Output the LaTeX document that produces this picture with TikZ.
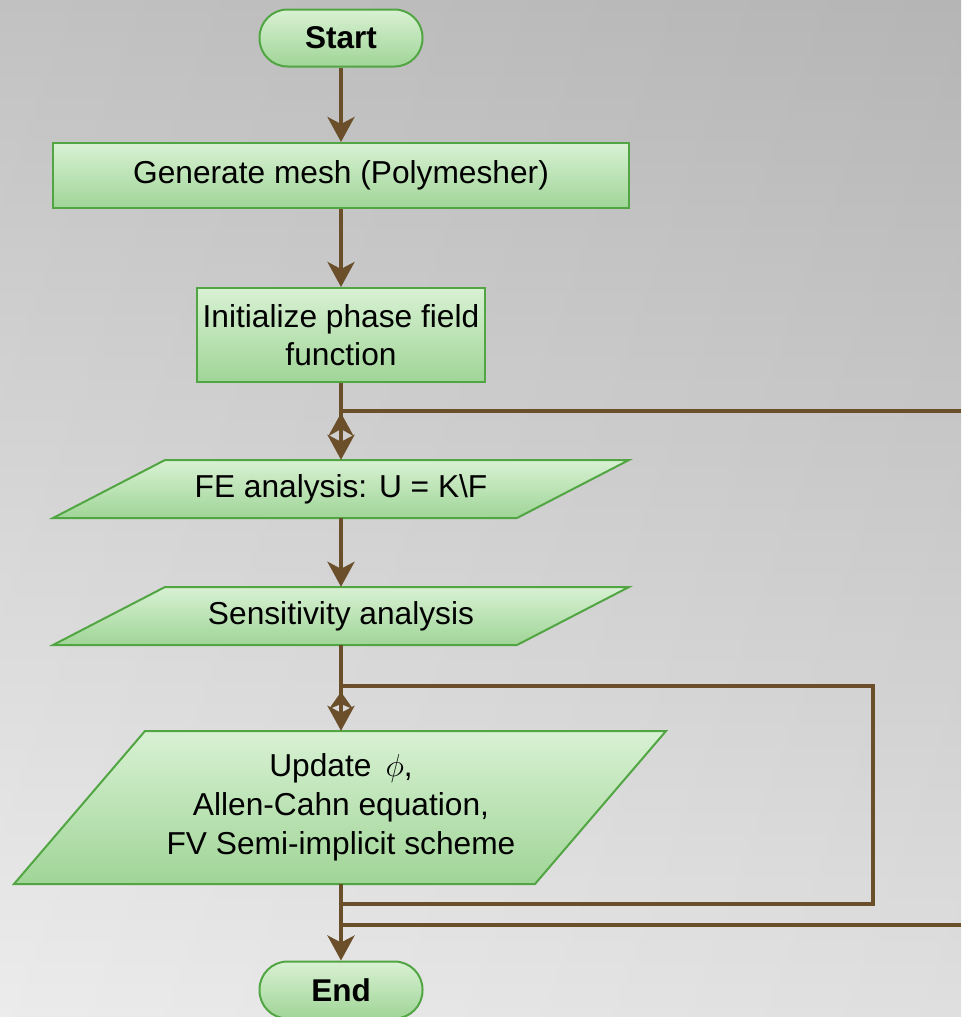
\RequirePackage{fix-cm}
\documentclass[tikz,border=0pt]{standalone}
\usepackage{fontspec}
\setmainfont{Liberation Sans}
\usetikzlibrary{arrows.meta}
\definecolor{bgT}{HTML}{BBBBBB}
\definecolor{bgB}{HTML}{EAEAEA}
\definecolor{ovL}{HTML}{FFFFFF}
\definecolor{ovR}{HTML}{828282}
\definecolor{lnc}{HTML}{6B4F2A}
\definecolor{bord}{HTML}{52A543}
\definecolor{ftop}{HTML}{D8F1D3}
\definecolor{fbot}{HTML}{A0D597}
\tikzset{
  conn/.style={draw=lnc, line width=4pt},
  arr/.style={conn, -{Stealth[length=25pt,width=27pt,inset=7pt]}},
  shapebox/.style={draw=bord, line width=2pt, top color=ftop, bottom color=fbot},
  txt/.style={inner sep=0pt, align=center, font=\fontsize{31.7}{38}\selectfont},
  pill/.style={shapebox, txt, rounded corners=28pt, minimum width=163pt, minimum height=57pt, font=\fontsize{31.5}{38}\selectfont\bfseries},
  rectbox/.style={shapebox, txt, rectangle},
}
\begin{document}
\begin{tikzpicture}[x=1pt,y=-1pt]
\useasboundingbox (0,0) rectangle (961,1017);
\shade[top color=bgT, bottom color=bgB] (0,0) rectangle (961,1017);
\shade[left color=ovL, right color=ovR, opacity=0.1] (0,0) rectangle (961,1017);

% nodes
\node[pill] (start) at (341,38) {Start};
\node[rectbox, minimum width=576pt, minimum height=65pt] (mesh) at (341,175.5) {Generate mesh (Polymesher)};
\node[rectbox, minimum width=288pt, minimum height=94pt] (init) at (341,335) {Initialize phase field\\function};

\path[shapebox] (165,460) -- (629,460) -- (517,518) -- (53,518) -- cycle;
\node[txt, minimum width=400pt, minimum height=58pt] (fe) at (341,489) {FE analysis: U = K\textbackslash F};

\path[shapebox] (165,587) -- (629,587) -- (517,645) -- (53,645) -- cycle;
\node[txt, minimum width=400pt, minimum height=58pt] (sens) at (341,616) {Sensitivity analysis};

\path[shapebox] (145,731) -- (666,731) -- (535,884) -- (14,884) -- cycle;
\node[txt, minimum width=400pt, minimum height=153pt, font=\fontsize{31.7}{39}\selectfont] (upd) at (341,807.5) {Update \,$\phi$,\\Allen-Cahn equation,\\FV Semi-implicit scheme};

\node[pill] (end) at (341,990) {End};

% junction coordinates
\coordinate (j1) at (341,411);
\coordinate (j1t) at (341,413);
\coordinate (j1m) at (341,436);
\coordinate (r1) at (961,411);
\coordinate (r2) at (961,925);
\coordinate (j3) at (341,925);
\coordinate (j2) at (341,686);
\coordinate (j2t) at (341,692);
\coordinate (j2m) at (341,709);
\coordinate (k1) at (873,686);
\coordinate (k2) at (873,904);
\coordinate (j4) at (341,904);

% main flow
\draw[arr] (start.south) -- (mesh.north);
\draw[arr] (mesh.south) -- (init.north);
\draw[arr] (init.south) -- (fe.north);
\draw[arr] (fe.south) -- (sens.north);
\draw[arr] (sens.south) -- (upd.north);
\draw[arr] (upd.south) -- (end.north);

% loops
\draw[conn] (j3) -- (r2);
\draw[conn] (r1) -- (j1);
\draw[conn, line cap=rect] (j4) -- (k2) -- (k1) -- (j2);
\draw[conn, -{Stealth[length=23pt,width=25pt,inset=7pt]}] (j1m) -- (j1t);
\draw[conn, -{Stealth[length=17pt,width=24pt,inset=5pt]}] (j2m) -- (j2t);
\end{tikzpicture}
\end{document}
